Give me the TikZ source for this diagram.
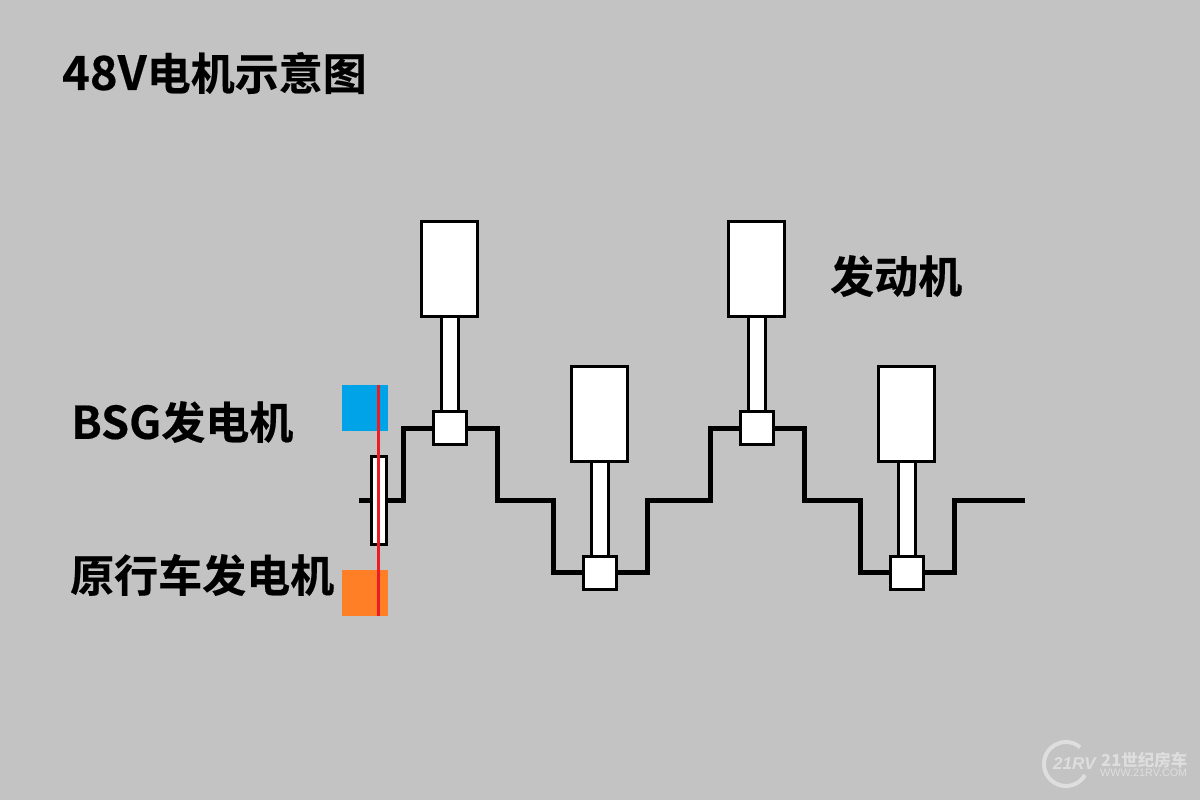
\documentclass[tikz,border=0pt]{standalone}
\usepackage{fontspec}
\newfontfamily\cjk{Noto Sans CJK SC}[BoldFont={Noto Sans CJK SC Bold},BoldFeatures={FakeBold=0.4}]
\newfontfamily\cjkplain{Noto Sans CJK SC}[BoldFont={Noto Sans CJK SC Bold}]
\newfontfamily\wmfont{Liberation Sans}
\definecolor{bgc}{HTML}{C3C3C3}
\definecolor{bsgc}{HTML}{00A2E8}
\definecolor{altc}{HTML}{FF7F27}
\definecolor{redc}{HTML}{ED1C24}
\definecolor{wmc}{HTML}{DEDEDE}
\newcommand{\bigger}[2]{{\fontsize{#1}{#1}\selectfont #2}}
\tikzset{
  x=1pt,y=-1pt,
  part/.style={draw=black,fill=white,line width=3pt,inner sep=0pt,outer sep=0pt,rectangle},
  headbox/.style={part,minimum width=56pt,minimum height=95pt},
  pinbox/.style={part,minimum width=33pt,minimum height=33pt},
  rodbox/.style={part,minimum width=17pt,minimum height=95pt},
  genbox/.style={part,minimum width=15pt,minimum height=88pt},
  crank/.style={draw=black,line width=5pt,line cap=butt,line join=miter},
  lab/.style={font=\cjk\bfseries\fontsize{44}{44}\selectfont,text=black,inner sep=0pt,anchor=west},
  swatch/.style={rectangle,minimum width=46pt,minimum height=46pt,inner sep=0pt,outer sep=0pt},
  wmtext/.style={text=wmc,inner sep=0pt,anchor=west}
}
\newcommand{\cylinder}[3]{%
  \node[rodbox] (rod#1) at (#2,#3+95) {};
  \node[pinbox] (pin#1) at (#2,#3+159) {};
  \node[headbox] (head#1) at (#2,#3) {};
}
\begin{document}
\begin{tikzpicture}
\useasboundingbox (0,0) rectangle (1200,800);
\fill[bgc] (0,0) rectangle (1200,800);
% titles
\node[lab] (title) at (62,73) {\bigger{47}{48V}电机示意图};
\node[lab] (engine) at (830,276) {发动机};
\node[lab] (bsg) at (71,422) {\bigger{45}{BSG}发电机};
\node[lab] (orig) at (70,575) {原行车发电机};
% swatches
\node[swatch,fill=bsgc] (blue) at (365,408) {};
\node[swatch,fill=altc] (orange) at (365,593) {};
% crankshaft
\coordinate (cs) at (359,500.5);
\coordinate (ce) at (1025,500.5);
\draw[crank] (cs) -- (403.5,500.5) -- (403.5,428.5) -- (497.5,428.5) -- (497.5,500.5)
  -- (553.5,500.5) -- (553.5,572.5) -- (647.5,572.5) -- (647.5,500.5) -- (710.5,500.5)
  -- (710.5,428.5) -- (804.5,428.5) -- (804.5,500.5) -- (860.5,500.5) -- (860.5,572.5)
  -- (954.5,572.5) -- (954.5,500.5) -- (ce);
% generator pulley
\node[genbox] (gen) at (379,500.5) {};
% cylinders
\cylinder{a}{449.5}{269}
\cylinder{b}{599.5}{414}
\cylinder{c}{756.5}{269}
\cylinder{d}{906.5}{414}
% belt
\draw[draw=redc,line width=3pt] (378.5,385) -- (378.5,616);
% watermark
\draw[wmc,line width=4pt] (1085,775) arc[start angle=30,end angle=310,radius=22];
\node[wmtext,font=\wmfont\bfseries\itshape\fontsize{17}{17}\selectfont] (wmlogo) at (1053,764) {21RV};
\node[wmtext,font=\cjkplain\bfseries\itshape\fontsize{16.5}{16.5}\selectfont] (wmname) at (1101,760) {21世纪房车};
\node[wmtext,font=\wmfont\fontsize{10.8}{10.8}\selectfont] (wmurl) at (1100,773) {WWW.21RV.COM};
\end{tikzpicture}
\end{document}
